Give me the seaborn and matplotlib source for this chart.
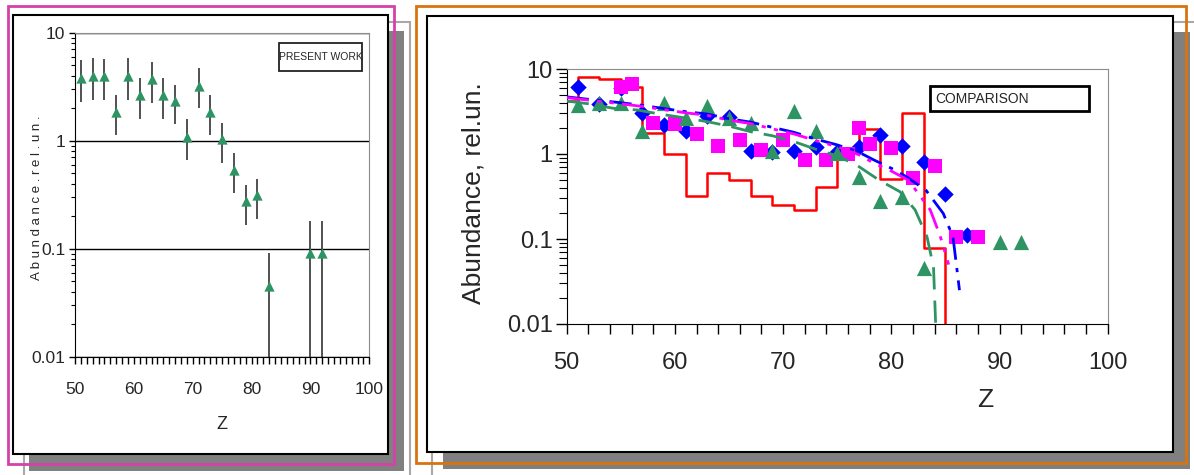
import numpy as np
import pandas as pd
import seaborn as sns
import matplotlib.pyplot as plt
from matplotlib import font_manager
from matplotlib.patches import Rectangle
from matplotlib.ticker import MultipleLocator, LogLocator, NullFormatter, FixedFormatter, FixedLocator

sns.set_style('ticks')
plt.rcParams['font.family'] = ['Liberation Sans', 'DejaVu Sans']

# narrow font for the left panel (Arial Narrow look), if installed
names = {f.name for f in font_manager.fontManager.ttflist}
narrow = 'Liberation Sans Narrow' if 'Liberation Sans Narrow' in names else 'Liberation Sans'

## data
# present work (triangles with error bars)
z_pw = [51, 53, 55, 57, 59, 61, 63, 65, 67, 69, 71, 73, 75, 77, 79, 81, 83, 90, 92]
ab_pw = [3.8, 4.0, 4.0, 1.86, 4.0, 2.65, 3.7, 2.65, 2.33, 1.09, 3.2, 1.86, 1.03, 0.54, 0.277, 0.314, 0.045, 0.091, 0.091]
ab_pw_hi = [5.6, 5.8, 5.7, 2.65, 5.8, 3.8, 5.3, 3.8, 3.3, 1.58, 4.7, 2.65, 1.47, 0.77, 0.39, 0.44, 0.092, 0.18, 0.18]
ab_pw_lo = [2.3, 2.4, 2.4, 1.13, 2.4, 1.6, 2.25, 1.6, 1.42, 0.66, 2.0, 1.13, 0.62, 0.33, 0.166, 0.19, 0.001, 0.001, 0.001]

# comparison: blue diamonds
z_dia = [51, 53, 55, 57, 59, 61, 63, 65, 67, 69, 71, 73, 75, 77, 79, 81, 83, 85, 87]
ab_dia = [6.2, 3.9, 6.0, 3.06, 2.2, 1.86, 2.8, 2.7, 1.08, 1.07, 1.08, 1.2, 1.05, 1.22, 1.67, 1.25, 0.81, 0.34, 0.11]

# comparison: magenta squares
z_sq = [55, 56, 58, 60, 62, 64, 66, 68, 70, 72, 74, 76, 77, 78, 80, 82, 84, 86, 88]
ab_sq = [6.1, 6.7, 2.3, 2.25, 1.7, 1.24, 1.46, 1.1, 1.46, 0.85, 0.85, 1.0, 2.04, 1.3, 1.17, 0.52, 0.72, 0.106, 0.106]

# comparison: red histogram (left bin edges)
z_hist = [50, 51, 53, 55, 57, 59, 61, 63, 65, 67, 69, 71, 73, 75, 77, 79, 81, 83, 85]
ab_hist = [4.2, 8.1, 7.6, 6.2, 1.75, 1.0, 0.32, 0.59, 0.50, 0.32, 0.25, 0.22, 0.41, 1.05, 1.97, 0.51, 3.06, 0.079, 0.001]

# comparison: model curves
z_blue = [50, 52, 54.6, 56.8, 58.8, 61, 63, 65, 67, 69, 71, 73, 75, 77, 78.4, 80, 81.4, 83.2, 84.8, 85.7, 86.3]
ab_blue = [4.7, 4.4, 4.06, 3.77, 3.45, 3.15, 2.95, 2.6, 2.37, 2.06, 1.8, 1.5, 1.28, 1.05, 0.85, 0.68, 0.54, 0.375, 0.2, 0.106, 0.025]
z_mag = [50, 52, 54.6, 56.8, 58.8, 61, 63, 65, 67, 69, 71, 73, 75, 77, 78.4, 80, 81.6, 83.6, 84.5, 85.3]
ab_mag = [4.6, 4.3, 3.95, 3.65, 3.35, 3.05, 2.85, 2.5, 2.28, 1.98, 1.72, 1.44, 1.22, 0.98, 0.78, 0.63, 0.49, 0.22, 0.11, 0.05]
z_grn = [50, 52, 54.3, 56.5, 58.6, 61, 63, 65, 67, 69, 71, 73, 75, 76.8, 78.9, 80.8, 82.2, 83.3, 83.9, 84.1]
ab_grn = [4.2, 3.9, 3.45, 3.3, 2.95, 2.65, 2.4, 2.13, 1.83, 1.64, 1.4, 1.14, 0.95, 0.74, 0.49, 0.36, 0.22, 0.106, 0.047, 0.01]

y_ticks = [0.01, 0.1, 1, 10]
y_labels = ['0.01', '0.1', '1', '10']

GREEN = '#2f9463'
W, H = 1194, 475

fig = plt.figure(figsize=(W / 100, H / 100), dpi=100)

# background frames (pixel coordinates, y down)
bg = fig.add_axes([0, 0, 1, 1], zorder=-10)
bg.set_xlim(0, W)
bg.set_ylim(H, 0)
bg.axis('off')

def frame(x0, y0, x1, y1, **kw):
    bg.add_patch(Rectangle((x0, y0), x1 - x0, y1 - y0, **kw))

frame(24, 22, 410, 490, fill=False, ec='#a8a8a8', lw=1.5)
frame(29, 31, 404, 471, fc='#808080', ec='none')
frame(13, 15, 388, 454, fc='white', ec='black', lw=1.5)
frame(8, 6, 394, 464, fill=False, ec='#d641a8', lw=2)

frame(432, 22, 1210, 490, fill=False, ec='#a8a8a8', lw=1.5)
frame(443, 32, 1190, 469, fc='#808080', ec='none')
frame(427, 16, 1173, 452, fc='white', ec='black', lw=1.5)
frame(416, 6, 1186, 463, fill=False, ec='#d9730d', lw=2)

def px_axes(x0, y0, x1, y1):
    return fig.add_axes([x0 / W, 1 - y1 / H, (x1 - x0) / W, (y1 - y0) / H])

def style_axes(ax):
    ax.set_yscale('log')
    ax.set_xlim(50, 100)
    ax.set_ylim(0.01, 10)
    ax.set_facecolor('none')
    for s in ['left', 'bottom']:
        ax.spines[s].set_color('black')
    for s in ['top', 'right']:
        ax.spines[s].set_color('#8c8c8c')
    ax.xaxis.set_major_locator(MultipleLocator(10))
    ax.yaxis.set_major_locator(FixedLocator(y_ticks))
    ax.yaxis.set_major_formatter(FixedFormatter(y_labels))
    ax.yaxis.set_minor_locator(LogLocator(base=10, subs=np.arange(2, 10)))
    ax.yaxis.set_minor_formatter(NullFormatter())

## left panel: present work
ax1 = px_axes(75, 32.7, 369.3, 356.7)
style_axes(ax1)
ax1.xaxis.set_minor_locator(MultipleLocator(1))
ax1.set_axisbelow(True)
ax1.yaxis.grid(True, which='major', color='black', lw=1)

df_pw = pd.DataFrame({'Z': z_pw, 'ab': ab_pw, 'lo': ab_pw_lo, 'hi': ab_pw_hi})
ax1.vlines(df_pw['Z'], df_pw['lo'], df_pw['hi'], color='#333333', lw=1.2, zorder=2)
sns.scatterplot(data=df_pw, x='Z', y='ab', marker='^', s=55, color=GREEN,
                linewidth=0, ax=ax1, zorder=3)

ax1.tick_params(axis='both', which='both', direction='out', color='black')
ax1.tick_params(axis='x', which='both', length=5, width=1, pad=13, labelsize=12.5)
ax1.tick_params(axis='y', which='major', length=4, width=1, pad=3, labelsize=12.5)
ax1.tick_params(axis='y', which='minor', length=3, width=0.8)
for lab in ax1.get_xticklabels() + ax1.get_yticklabels():
    lab.set_fontfamily(narrow)
ax1.set_xlabel('Z', fontsize=13, family=narrow)
ax1.set_ylabel('A b u n d a n c e . r e l . u n .', fontsize=9.5, family=narrow)
ax1.xaxis.set_label_coords(0.5, -0.183)
ax1.yaxis.set_label_coords(-0.11, 0.49)

ax1.add_patch(Rectangle((0.693, 0.882), 0.283, 0.085, transform=ax1.transAxes,
                        fill=False, ec='#222222', lw=1.3, zorder=4))
ax1.text(0.8345, 0.925, 'PRESENT WORK', transform=ax1.transAxes, ha='center',
         va='center', fontsize=7.5, family=narrow)

## right panel: comparison
ax2 = px_axes(566.7, 69, 1107.7, 324)
style_axes(ax2)
ax2.xaxis.set_minor_locator(MultipleLocator(2))

sns.lineplot(x=z_hist, y=ab_hist, drawstyle='steps-post', color='#ff0000', lw=1.8,
             ax=ax2, zorder=2)
sns.scatterplot(x=z_dia, y=ab_dia, marker='D', s=70, color='#0000ff', linewidth=0,
                ax=ax2, zorder=3)
sns.scatterplot(x=z_sq, y=ab_sq, marker='s', s=110, color='#ff00ff', linewidth=0,
                ax=ax2, zorder=4)
sns.scatterplot(x=z_pw, y=ab_pw, marker='^', s=120, color=GREEN, linewidth=0,
                ax=ax2, zorder=5)
sns.lineplot(x=z_blue, y=ab_blue, color='#0000ff', lw=2, linestyle=(0, (8, 3, 1.5, 3)),
             ax=ax2, zorder=6)
sns.lineplot(x=z_mag, y=ab_mag, color='#ff00ff', lw=2, linestyle=(0, (8, 3, 1.5, 3, 1.5, 3)),
             ax=ax2, zorder=6)
sns.lineplot(x=z_grn, y=ab_grn, color=GREEN, lw=2, linestyle=(0, (8, 4)),
             ax=ax2, zorder=6)

ax2.tick_params(axis='both', which='both', direction='out', color='black')
ax2.tick_params(axis='x', which='both', length=7, width=1, pad=13, labelsize=17)
ax2.tick_params(axis='y', which='major', length=8, width=1, pad=2, labelsize=17)
ax2.tick_params(axis='y', which='minor', length=6, width=0.8)
ax2.set_xlabel('Z', fontsize=19)
ax2.set_ylabel('Abundance, rel.un.', fontsize=19)
ax2.xaxis.set_label_coords(0.773, -0.251)
ax2.yaxis.set_label_coords(-0.151, 0.512)

ax2.add_patch(Rectangle((0.6715, 0.8365), 0.294, 0.097, transform=ax2.transAxes,
                        fill=False, ec='black', lw=2, zorder=7))
ax2.text(0.681, 0.884, 'COMPARISON', transform=ax2.transAxes, ha='left',
         va='center', fontsize=10, zorder=7)

fig.savefig('out.png', dpi=100)
